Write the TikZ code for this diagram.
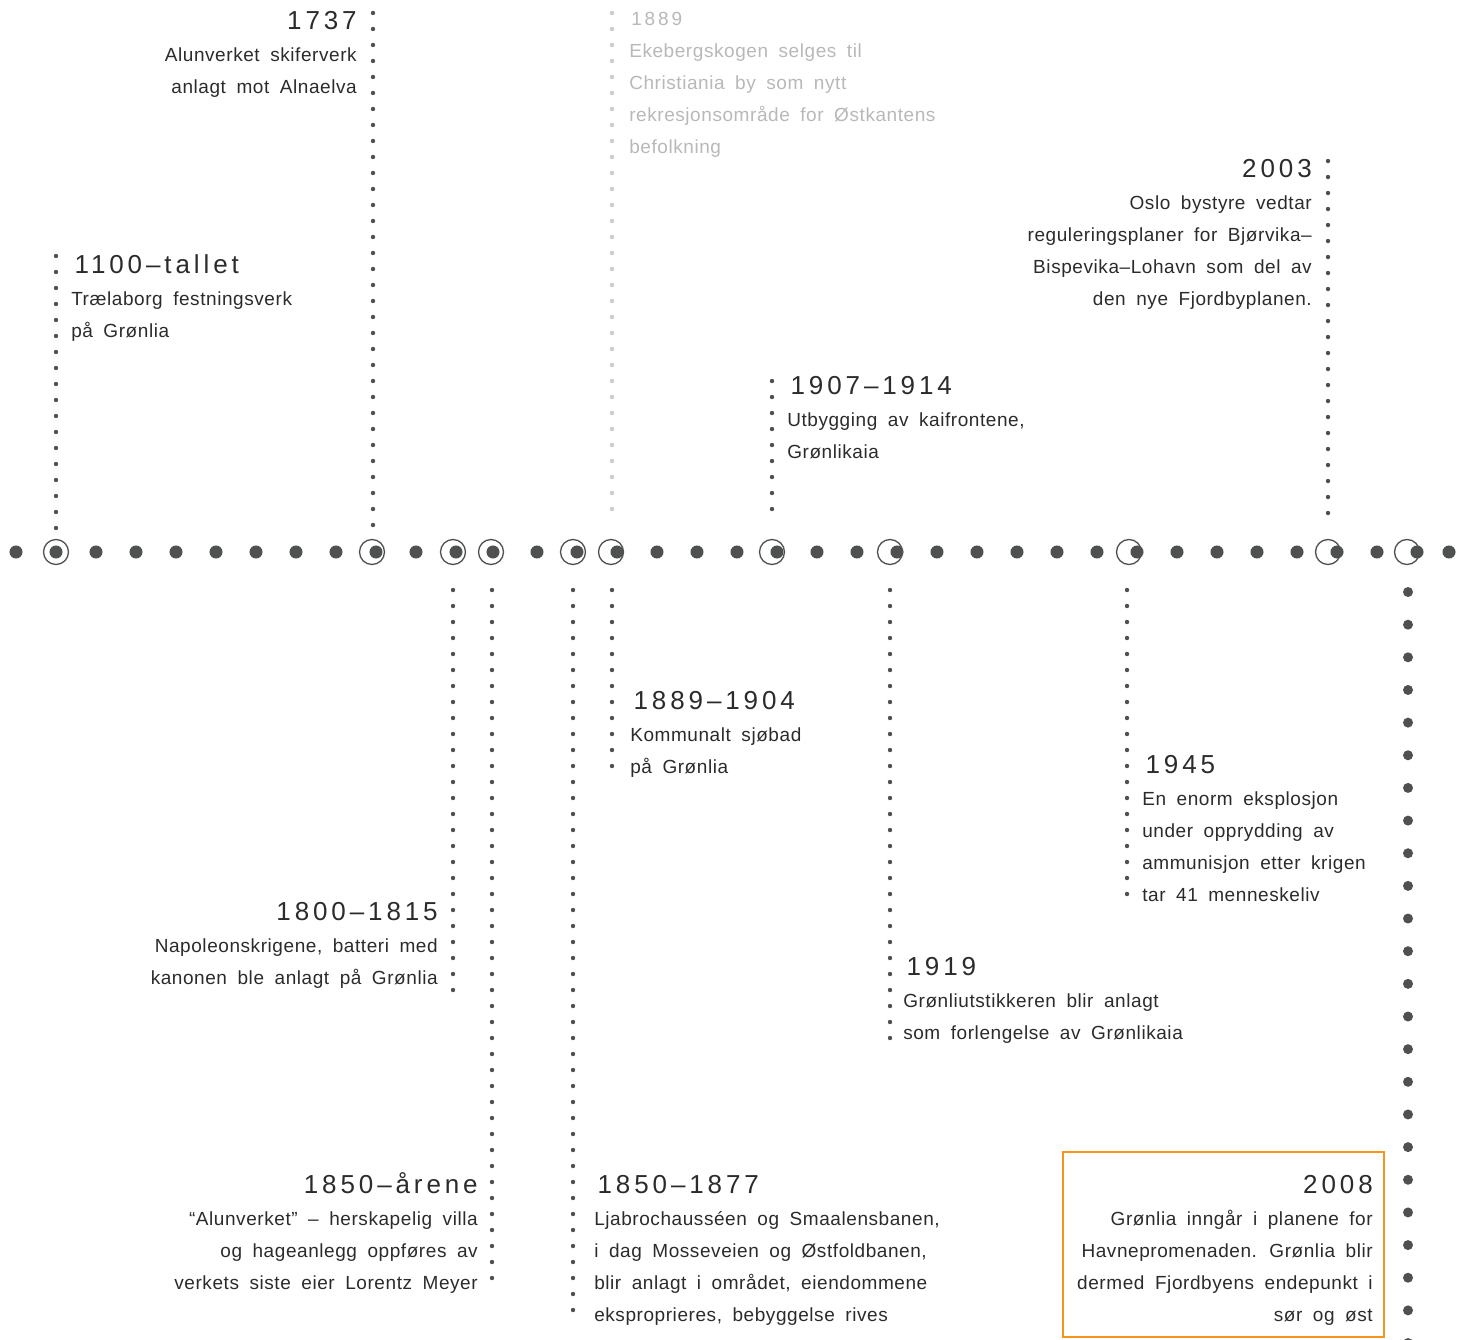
\documentclass[tikz,border=0pt]{standalone}
\usepackage{fontspec}
\setmainfont{Liberation Sans}[LetterSpace=3,WordSpace=1.8]
\newfontfamily\yrfont{Liberation Sans}[LetterSpace=15]
\definecolor{ink}{HTML}{2B2B2B}
\definecolor{dotc}{HTML}{4F5150}
\definecolor{paleink}{HTML}{B8B8B8}
\definecolor{paledot}{HTML}{CCCCCC}
\definecolor{boxorange}{HTML}{F7941D}
\newcommand\bodyfs{\fontsize{14.25pt}{24pt}\selectfont}
\newcommand\yr[1]{{\yrfont\fontsize{19.5pt}{24pt}\selectfont #1}}
\newcommand\yrL[1]{\kern2.5pt\yr{#1}}
\newcommand\yrsmall[1]{{\yrfont\fontsize{14.25pt}{24pt}\selectfont #1}}
\newcommand\blkL[1]{\vtop{\bodyfs\baselineskip=24pt\halign{##\hfil\cr#1\crcr}}}
\newcommand\blkR[1]{\vtop{\bodyfs\baselineskip=24pt\halign{\hfil##\cr#1\crcr}}}
\begin{document}
\begin{tikzpicture}[x=0.75pt,y=-0.75pt,
  ring/.style={circle,draw=dotc,line width=1pt,minimum size=18.75pt,inner sep=0pt},
  dotline/.style={draw=dotc,line width=3.3pt,line cap=round,dash pattern=on 0pt off 12pt},
  paleline/.style={dotline,draw=paledot},
  bigdotline/.style={draw=dotc,line width=7.5pt,line cap=round,dash pattern=on 0pt off 24.49pt},
  txt/.style={inner sep=0pt,text=ink},
  txtL/.style={txt,anchor=base west},
  txtR/.style={txt,anchor=base east}]
\useasboundingbox (0,0) rectangle (1466,1339);
% main timeline dots
\foreach \x in {16,56,96,136,176,216,256,296,336,376,416,456,493,537,577,617,657,697,737,777,817,857,897,937,977,1017,1057,1097,1137,1177,1217,1257,1297,1337,1377,1417,1449}
  \fill[dotc] (\x,552) circle[radius=4.9pt];
% rings
\node[ring] (r1100) at (56,552) {};
\node[ring] (r1737) at (372,552) {};
\node[ring] (r1800) at (453,552) {};
\node[ring] (r1850a) at (491,552) {};
\node[ring] (r1850b) at (573,552) {};
\node[ring] (r1889) at (611,552) {};
\node[ring] (r1907) at (772,552) {};
\node[ring] (r1919) at (890,552) {};
\node[ring] (r1945) at (1129,552) {};
\node[ring] (r2003) at (1328,552) {};
\node[ring] (r2008) at (1407,552) {};
% line end coordinates (top)
\coordinate (t1100a) at (56,256);  \coordinate (t1100b) at (56,530);
\coordinate (t1737a) at (373,13);  \coordinate (t1737b) at (373,529);
\coordinate (t1889a) at (612,13);  \coordinate (t1889b) at (612,513);
\coordinate (t1907a) at (772,381); \coordinate (t1907b) at (772,513);
\coordinate (t2003a) at (1328,161);\coordinate (t2003b) at (1328,513);
% line end coordinates (bottom)
\coordinate (b1800a) at (453,590); \coordinate (b1800b) at (453,990);
\coordinate (b1850a) at (492,590); \coordinate (b1850b) at (492,1292);
\coordinate (b1877a) at (573,590); \coordinate (b1877b) at (573,1318);
\coordinate (b1904a) at (612,590); \coordinate (b1904b) at (612,774);
\coordinate (b1919a) at (890,590); \coordinate (b1919b) at (890,1038);
\coordinate (b1945a) at (1127,590);\coordinate (b1945b) at (1127,898);
\coordinate (b2008a) at (1408,592);\coordinate (b2008b) at (1408,1345);
% dotted lines
\draw[dotline] (t1100a) -- (t1100b);
\draw[dotline] (t1737a) -- (t1737b);
\draw[paleline] (t1889a) -- (t1889b);
\draw[dotline] (t1907a) -- (t1907b);
\draw[dotline] (t2003a) -- (t2003b);
\draw[dotline] (b1800a) -- (b1800b);
\draw[dotline] (b1850a) -- (b1850b);
\draw[dotline] (b1877a) -- (b1877b);
\draw[dotline] (b1904a) -- (b1904b);
\draw[dotline] (b1919a) -- (b1919b);
\draw[dotline] (b1945a) -- (b1945b);
\draw[bigdotline] (b2008a) -- (b2008b);
% 2008 box
\draw[boxorange,line width=1.6pt] (1063,1152) rectangle (1384,1337);
% texts
\node[txtR] (x1737) at (357,29) {\blkR{\yr{1737}\cr Alunverket skiferverk\cr anlagt mot Alnaelva}};
\node[txtL] (x1100) at (71,273) {\blkL{\yrL{1100–tallet}\cr Trælaborg festningsverk\cr på Grønlia}};
\node[txtL,text=paleink] (x1889) at (629,25) {\blkL{\kern1.5pt\yrsmall{1889}\cr Ekebergskogen selges til\cr Christiania by som nytt\cr rekresjonsområde for Østkantens\cr befolkning}};
\node[txtR] (x2003) at (1312,177) {\blkR{\yr{2003}\cr Oslo bystyre vedtar\cr reguleringsplaner for Bjørvika–\cr Bispevika–Lohavn som del av\cr den nye Fjordbyplanen.}};
\node[txtL] (x1907) at (787,394) {\blkL{\yrL{1907–1914}\cr Utbygging av kaifrontene,\cr Grønlikaia}};
\node[txtL] (x1904) at (630,709) {\blkL{\yrL{1889–1904}\cr Kommunalt sjøbad\cr på Grønlia}};
\node[txtL] (x1945) at (1142,773) {\blkL{\yrL{1945}\cr En enorm eksplosjon\cr under opprydding av\cr ammunisjon etter krigen\cr tar 41 menneskeliv}};
\node[txtR] (x1800) at (438,920) {\blkR{\yr{1800–1815}\cr Napoleonskrigene, batteri med\cr kanonen ble anlagt på Grønlia}};
\node[txtL] (x1919) at (903,975) {\blkL{\yrL{1919}\cr Grønliutstikkeren blir anlagt\cr som forlengelse av Grønlikaia}};
\node[txtR] (x1850) at (478,1193) {\blkR{\yr{1850–årene}\cr “Alunverket” – herskapelig villa\cr og hageanlegg oppføres av\cr verkets siste eier Lorentz Meyer}};
\node[txtL] (x1877) at (594,1193) {\blkL{\yrL{1850–1877}\cr Ljabrochausséen og Smaalensbanen,\cr i dag Mosseveien og Østfoldbanen,\cr blir anlagt i området, eiendommene\cr eksproprieres, bebyggelse rives}};
\node[txtR] (x2008) at (1373,1193) {\blkR{\yr{2008}\cr Grønlia inngår i planene for\cr Havnepromenaden. Grønlia blir\cr dermed Fjordbyens endepunkt i\cr sør og øst}};
\end{tikzpicture}
\end{document}
